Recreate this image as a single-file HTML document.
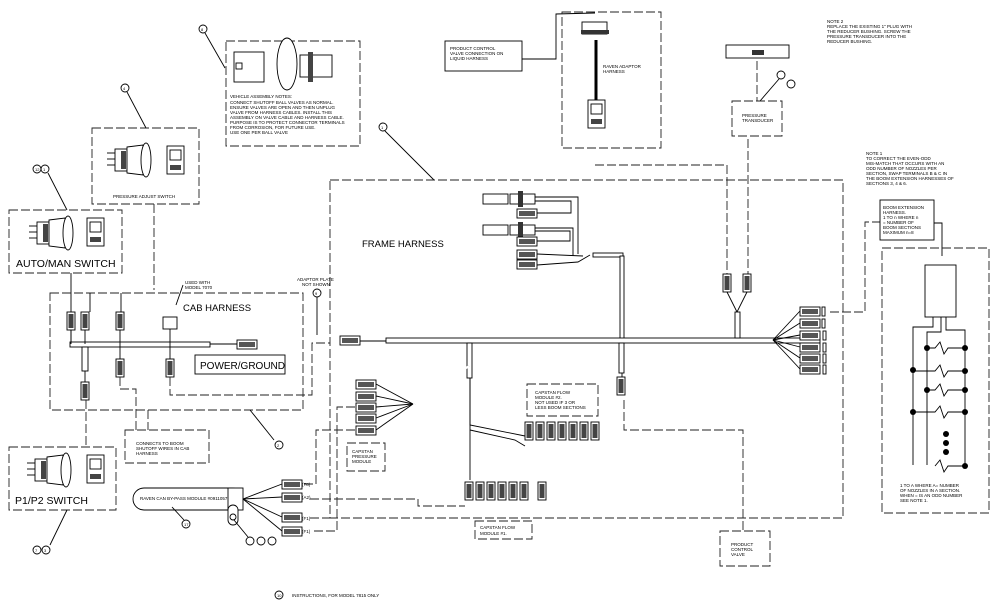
<!DOCTYPE html>
<html><head><style>
html,body{margin:0;padding:0;background:#fff;}
svg{display:block;}
text{font-family:"Liberation Sans",sans-serif;fill:#000;}
.d{fill:none;stroke:#222;stroke-width:0.9;stroke-dasharray:9 3;}
.s{fill:none;stroke:#000;stroke-width:0.9;}
.t{font-size:4.5px;}
.h{fill:#fff;stroke:#000;stroke-width:0.9;}
</style></head><body>
<svg width="1000" height="608" viewBox="0 0 1000 608" xmlns="http://www.w3.org/2000/svg">
<defs>
<g id="cn"><rect x="0" y="0" width="20" height="9" class="h"/><rect x="2" y="2" width="16" height="5" fill="#555"/></g>
<g id="vc"><rect x="0" y="0" width="8" height="18" class="h"/><rect x="1.5" y="2" width="5" height="14" fill="#444"/></g>
<g id="sw"><rect x="0" y="4" width="12" height="22" class="h"/><path d="M12 2 L28 0 L28 30 L12 28 Z" class="h"/><ellipse cx="31" cy="15" rx="5" ry="17" class="h"/><line x1="-8" y1="8" x2="0" y2="8" class="s"/><line x1="-8" y1="14" x2="0" y2="14" class="s"/><line x1="-8" y1="20" x2="0" y2="20" class="s"/><rect x="6" y="6" width="5" height="18" fill="#444"/></g>
<g id="pl"><rect x="0" y="0" width="17" height="28" class="h"/><rect x="3" y="4" width="11" height="10" class="h"/><rect x="3" y="19" width="11" height="5" fill="#444"/></g>
</defs>

<!-- valve note box -->
<circle cx="203" cy="29" r="4" class="s"/><text x="201" y="31" font-size="4">8</text>
<line x1="205" y1="33" x2="225" y2="68" class="s"/>
<rect x="226" y="41" width="134" height="105" class="d"/>
<rect x="234" y="52" width="30" height="30" class="h"/><rect x="236" y="63" width="6" height="6" class="h"/>
<ellipse cx="287" cy="64" rx="10" ry="26" class="h"/>
<rect x="300" y="55" width="32" height="22" class="h"/><rect x="308" y="52" width="5" height="30" fill="#444"/>
<text class="t" x="230" y="98">VEHICLE ASSEMBLY NOTES:</text>
<text class="t" x="230" y="104">CONNECT SHUTOFF BALL VALVES AS NORMAL.</text>
<text class="t" x="230" y="109">ENSURE VALVES ARE OPEN AND THEN UNPLUG</text>
<text class="t" x="230" y="114">VALVE FROM HARNESS CABLES.  INSTALL THIS</text>
<text class="t" x="230" y="119">ASSEMBLY ON VALVE CABLE AND HARNESS CABLE.</text>
<text class="t" x="230" y="124">PURPOSE IS TO PROTECT CONNECTOR TERMINALS</text>
<text class="t" x="230" y="129">FROM CORROSION, FOR FUTURE USE.</text>
<text class="t" x="230" y="134">USE ONE PER BALL VALVE</text>

<!-- pressure adjust -->
<circle cx="125" cy="88" r="4" class="s"/><text x="123" y="90" font-size="4">4</text>
<line x1="127" y1="92" x2="146" y2="128" class="s"/>
<rect x="92" y="128" width="107" height="76" class="d"/>
<use href="#sw" x="115" y="145"/><use href="#pl" x="167" y="146"/>
<text class="t" x="113" y="198">PRESSURE ADJUST SWITCH</text>
<polyline points="154,204 154,290" class="d"/>

<!-- auto/man -->
<circle cx="37" cy="169" r="4" class="s"/><circle cx="45" cy="169" r="4" class="s"/>
<text x="35" y="171" font-size="4">12</text><text x="43" y="171" font-size="4">1</text>
<line x1="48" y1="173" x2="67" y2="210" class="s"/>
<rect x="9" y="210" width="113" height="63" class="d"/>
<use href="#sw" x="37" y="218"/><use href="#pl" x="87" y="218"/>
<text x="16" y="267" font-size="10.5">AUTO/MAN  SWITCH</text>
<line x1="71" y1="273" x2="71" y2="346" class="s"/>

<!-- cab harness -->
<rect x="50" y="293" width="253" height="117" class="d"/>
<text x="183" y="311" font-size="9.5">CAB  HARNESS</text>
<text class="t" x="185" y="284">USED WITH</text><text class="t" x="185" y="289">MODEL 7070</text>
<line x1="183" y1="285" x2="176" y2="305" class="s"/>
<line x1="90" y1="293" x2="90" y2="312" class="s"/><line x1="121" y1="293" x2="121" y2="312" class="s"/>
<use href="#vc" x="67" y="312"/><use href="#vc" x="81" y="312"/><use href="#vc" x="116" y="312"/>
<rect x="163" y="317" width="14" height="12" class="h"/>
<rect x="70" y="342" width="140" height="5" class="h"/>
<line x1="210" y1="344" x2="237" y2="344" class="s"/><use href="#cn" x="237" y="340"/>
<line x1="71" y1="330" x2="71" y2="344" class="s"/><line x1="85" y1="330" x2="85" y2="344" class="s"/>
<rect x="82" y="347" width="6" height="24" class="h"/>
<use href="#vc" x="81" y="382"/><line x1="85" y1="371" x2="85" y2="382" class="s"/>
<use href="#vc" x="116" y="359"/><line x1="120" y1="330" x2="120" y2="359" class="s"/>
<use href="#vc" x="166" y="359"/><line x1="170" y1="329" x2="170" y2="359" class="s"/>
<rect x="195" y="355" width="90" height="19" class="h"/>
<text x="200" y="369" font-size="10">POWER/GROUND</text>
<polyline points="170,377 170,395 312,395 312,343 330,343" class="d"/>
<text class="t" x="297" y="281">ADAPTOR PLATE</text><text class="t" x="302" y="286">NOT SHOWN</text>
<circle cx="317" cy="293" r="4" class="s"/><text x="315" y="295" font-size="4">9</text>
<line x1="317" y1="297" x2="317" y2="335" class="s"/>
<polyline points="120,377 120,389 136,389 136,430" class="d"/>
<line x1="148" y1="410" x2="148" y2="430" class="d"/>
<rect x="125" y="430" width="84" height="33" class="d"/>
<text class="t" x="136" y="445">CONNECTS TO BOOM</text><text class="t" x="136" y="450">SHUTOFF WIRES IN CAB</text><text class="t" x="136" y="455">HARNESS</text>
<line x1="250" y1="410" x2="274" y2="440" class="s"/>
<circle cx="279" cy="445" r="4" class="s"/><text x="277" y="447" font-size="4">2</text>
<line x1="86" y1="400" x2="86" y2="447" class="d"/>

<!-- p1/p2 -->
<rect x="9" y="447" width="107" height="63" class="d"/>
<use href="#sw" x="35" y="455"/><use href="#pl" x="87" y="455"/>
<text x="15" y="504" font-size="10.5">P1/P2  SWITCH</text>
<line x1="67" y1="510" x2="50" y2="545" class="s"/>
<circle cx="37" cy="550" r="4" class="s"/><circle cx="46" cy="550" r="4" class="s"/>
<text x="35" y="552" font-size="4">7</text><text x="44" y="552" font-size="4">3</text>

<!-- frame harness -->
<circle cx="383" cy="127" r="4" class="s"/><text x="381" y="129" font-size="4">1</text>
<line x1="385" y1="131" x2="434" y2="180" class="s"/>
<rect x="330" y="180" width="513" height="338" class="d"/>
<text x="362" y="247" font-size="9.5">FRAME  HARNESS</text>
<rect x="483" y="194" width="25" height="10" class="h"/><rect x="510" y="194" width="25" height="10" class="h"/><rect x="518" y="191" width="5" height="16" fill="#333"/>
<rect x="483" y="225" width="25" height="10" class="h"/><rect x="510" y="225" width="25" height="10" class="h"/><rect x="518" y="222" width="5" height="16" fill="#333"/>
<polyline points="535,197 578,197 578,254" class="s"/>
<polyline points="535,201 571,201 571,213 537,213" class="s"/>
<polyline points="535,228 573,228 573,256" class="s"/>
<polyline points="535,231 570,231 570,241 537,241" class="s"/>
<use href="#cn" x="517" y="209"/><use href="#cn" x="517" y="237"/><use href="#cn" x="517" y="250"/><use href="#cn" x="517" y="260"/>
<polyline points="537,254 583,256" class="s"/><polyline points="537,265 578,262 590,255" class="s"/>
<rect x="593" y="253" width="30" height="4" class="h"/>
<rect x="620" y="256" width="4" height="84" class="h"/>
<use href="#cn" x="340" y="336"/><line x1="360" y1="341" x2="386" y2="341" class="s"/>
<rect x="386" y="338" width="434" height="5" class="h"/>
<rect x="619" y="343" width="5" height="30" class="h"/><line x1="622" y1="373" x2="622" y2="378" class="s"/>
<use href="#vc" x="617" y="377"/>
<polyline points="624,400 624,430 743,430 743,531" class="d"/>
<polyline points="595,165 727,165 727,280" class="d"/>
<line x1="748" y1="139" x2="748" y2="280" class="d"/>
<use href="#vc" x="723" y="274"/><use href="#vc" x="743" y="274"/>
<polyline points="727,292 737,312 747,292" class="s"/><rect x="735" y="312" width="5" height="26" class="h"/>
<g>
<line x1="773" y1="340" x2="800" y2="311" class="s"/><line x1="773" y1="340" x2="800" y2="323" class="s"/><line x1="773" y1="340" x2="800" y2="335" class="s"/><line x1="773" y1="340" x2="800" y2="347" class="s"/><line x1="773" y1="340" x2="800" y2="358" class="s"/><line x1="773" y1="340" x2="800" y2="369" class="s"/>
<use href="#cn" x="800" y="307"/><use href="#cn" x="800" y="319"/><use href="#cn" x="800" y="331"/><use href="#cn" x="800" y="343"/><use href="#cn" x="800" y="354"/><use href="#cn" x="800" y="365"/>
<rect x="822" y="307" width="3" height="9" class="h"/><rect x="822" y="319" width="3" height="9" class="h"/><rect x="823" y="331" width="3" height="9" class="h"/><rect x="823" y="343" width="3" height="9" class="h"/><rect x="823" y="354" width="3" height="9" class="h"/><rect x="823" y="365" width="3" height="9" class="h"/>
</g>
<polyline points="830,312 865,312 865,222 880,222" class="d"/>
<rect x="467" y="343" width="5" height="35" class="h"/>
<line x1="469" y1="366" x2="415" y2="404" class="s" stroke-width="4"/>
<line x1="469" y1="366" x2="415" y2="404" stroke="#fff" stroke-width="2"/>
<use href="#cn" x="356" y="380"/><use href="#cn" x="356" y="392"/><use href="#cn" x="356" y="403"/><use href="#cn" x="356" y="414"/><use href="#cn" x="356" y="426"/>
<line x1="376" y1="384" x2="413" y2="404" class="s"/><line x1="376" y1="396" x2="413" y2="404" class="s"/><line x1="376" y1="407" x2="413" y2="404" class="s"/><line x1="376" y1="418" x2="413" y2="404" class="s"/><line x1="376" y1="430" x2="413" y2="404" class="s"/>
<polyline points="355,407 337,407 337,531 313,531" class="d"/>
<polyline points="355,430 316,430 316,484 302,484" class="d"/>
<polyline points="470,378 470,425 525,436" class="s"/>
<line x1="470" y1="378" x2="470" y2="480" class="s"/>
<polyline points="470,430 515,440 525,446" class="s"/>
<rect x="347" y="443" width="38" height="28" class="d"/>
<text class="t" x="352" y="453">CAPSTAN</text><text class="t" x="352" y="458">PRESSURE</text><text class="t" x="352" y="463">MODULE</text>
<rect x="527" y="384" width="71" height="32" class="d"/>
<text class="t" x="535" y="394">CAPSTAN FLOW</text><text class="t" x="535" y="399">MODULE #2.</text><text class="t" x="535" y="404">NOT USED IF 3 OR</text><text class="t" x="535" y="409">LESS BOOM SECTIONS</text>
<g>
<use href="#vc" x="525" y="422"/><use href="#vc" x="536" y="422"/><use href="#vc" x="547" y="422"/><use href="#vc" x="558" y="422"/><use href="#vc" x="569" y="422"/><use href="#vc" x="580" y="422"/><use href="#vc" x="591" y="422"/>
<use href="#vc" x="465" y="482"/><use href="#vc" x="476" y="482"/><use href="#vc" x="487" y="482"/><use href="#vc" x="498" y="482"/><use href="#vc" x="509" y="482"/><use href="#vc" x="520" y="482"/><use href="#vc" x="538" y="482"/>
</g>
<rect x="475" y="521" width="57" height="18" class="d"/>
<text class="t" x="480" y="529">CAPSTAN FLOW</text><text class="t" x="480" y="535">MODULE #1.</text>

<!-- bypass module -->
<rect x="133" y="488" width="110" height="22" rx="11" class="h"/>
<text class="t" x="140" y="500">RAVEN CAN BY-PASS MODULE #0911057</text>
<rect x="228" y="488" width="15" height="22" class="h"/><rect x="228" y="505" width="10" height="20" rx="5" class="h"/>
<circle cx="233" cy="517" r="3" class="s"/>
<line x1="243" y1="499" x2="282" y2="484" class="s"/><line x1="243" y1="499" x2="282" y2="497" class="s"/><line x1="243" y1="499" x2="282" y2="517" class="s"/><line x1="243" y1="499" x2="282" y2="531" class="s"/>
<use href="#cn" x="282" y="480"/><use href="#cn" x="282" y="493"/><use href="#cn" x="282" y="513"/><use href="#cn" x="282" y="527"/>
<text class="t" x="302" y="486">(T8)</text><text class="t" x="302" y="499">(A2)</text><text class="t" x="302" y="520">(F1)</text><text class="t" x="302" y="533">(F1)</text>
<polyline points="310,499 418,499 418,506 465,506" class="d"/>
<line x1="310" y1="518" x2="337" y2="518" class="d"/>
<line x1="172" y1="507" x2="184" y2="520" class="s"/>
<circle cx="186" cy="524" r="4" class="s"/><text x="184" y="526" font-size="4">17</text>
<line x1="234" y1="520" x2="248" y2="537" class="s"/>
<circle cx="250" cy="541" r="4" class="s"/><circle cx="261" cy="541" r="4" class="s"/><circle cx="272" cy="541" r="4" class="s"/>

<!-- product control valve connection -->
<rect x="445" y="41" width="77" height="30" class="s"/>
<text class="t" x="450" y="50">PRODUCT CONTROL</text><text class="t" x="450" y="55">VALVE CONNECTION ON</text><text class="t" x="450" y="60">LIQUID HARNESS</text>
<polyline points="522,59 556,59 556,14 595,13" class="s"/>
<rect x="562" y="12" width="99" height="136" class="d"/>
<rect x="582" y="22" width="25" height="12" class="h"/><rect x="581" y="30" width="28" height="4" fill="#333"/>
<line x1="596" y1="40" x2="596" y2="100" stroke="#000" stroke-width="3"/>
<use href="#pl" x="588" y="100"/>
<text class="t" x="603" y="68">RAVEN ADAPTOR</text><text class="t" x="603" y="73">HARNESS</text>

<!-- pressure transducer -->
<rect x="726" y="45" width="63" height="13" class="h"/><rect x="752" y="50" width="12" height="5" fill="#333"/>
<line x1="757" y1="61" x2="757" y2="101" class="d"/>
<circle cx="781" cy="75" r="4" class="s"/><circle cx="791" cy="84" r="4" class="s"/>
<line x1="779" y1="79" x2="760" y2="101" class="s"/>
<rect x="732" y="101" width="50" height="35" class="d"/>
<text class="t" x="742" y="117">PRESSURE</text><text class="t" x="742" y="122">TRANSDUCER</text>

<!-- notes -->
<text class="t" x="827" y="23">NOTE 2</text>
<text class="t" x="827" y="28">REPLACE THE EXISTING 1" PLUG WITH</text>
<text class="t" x="827" y="33">THE REDUCER BUSHING.  SCREW THE</text>
<text class="t" x="827" y="38">PRESSURE TRANSDUCER INTO THE</text>
<text class="t" x="827" y="43">REDUCER BUSHING.</text>
<text class="t" x="866" y="155">NOTE 1</text>
<text class="t" x="866" y="160">TO CORRECT THE EVEN-ODD</text>
<text class="t" x="866" y="165">MIS-MATCH THAT OCCURS WITH AN</text>
<text class="t" x="866" y="170">ODD NUMBER OF NOZZLES PER</text>
<text class="t" x="866" y="175">SECTION,  SWAP TERMINALS B &amp; C IN</text>
<text class="t" x="866" y="180">THE BOOM EXTENSION HARNESSES OF</text>
<text class="t" x="866" y="185">SECTIONS 3, 4 &amp; 6.</text>

<!-- boom extension -->
<rect x="880" y="200" width="54" height="40" class="s"/>
<text class="t" x="883" y="209">BOOM EXTENSION</text><text class="t" x="883" y="214">HARNESS.</text><text class="t" x="883" y="219">1 TO n WHERE n</text><text class="t" x="883" y="224">= NUMBER OF</text><text class="t" x="883" y="229">BOOM SECTIONS</text><text class="t" x="883" y="234">MAXIMUM n=8</text>
<polyline points="934,223 942,223 942,256" class="s"/>
<rect x="882" y="248" width="107" height="265" class="d"/>
<rect x="925" y="265" width="31" height="52" class="h"/>
<polyline points="933,317 933,327 913,327 913,465" class="s"/>
<polyline points="941,317 941,332 927,332 927,465" class="s"/>
<polyline points="946,317 946,330 965,330 965,467" class="s"/>
<g fill="#000">
<circle cx="927" cy="348" r="3"/><circle cx="965" cy="348" r="3"/>
<circle cx="913" cy="370" r="3"/><circle cx="965" cy="371" r="3"/>
<circle cx="927" cy="390" r="3"/><circle cx="965" cy="390" r="3"/>
<circle cx="913" cy="412" r="3"/><circle cx="965" cy="412" r="3"/>
<circle cx="946" cy="434" r="3"/><circle cx="946" cy="443" r="3"/><circle cx="946" cy="452" r="3"/>
<circle cx="965" cy="466" r="3"/>
</g>
<g class="s">
<polyline points="927,348 935,348 940,342 944,354 948,348 965,348"/>
<polyline points="913,371 935,371 940,365 944,377 948,371 965,371"/>
<polyline points="927,390 935,390 940,384 944,396 948,390 965,390"/>
<polyline points="913,412 935,412 940,406 944,418 948,412 965,412"/>
<polyline points="935,466 940,460 944,472 948,466 965,466"/>
</g>
<text class="t" x="900" y="487">1 TO A WHERE A= NUMBER</text><text class="t" x="900" y="492">OF NOZZLES IN A SECTION.</text><text class="t" x="900" y="497">WHEN = IS AN ODD NUMBER</text><text class="t" x="900" y="502">SEE NOTE 1.</text>

<!-- product control valve -->
<rect x="720" y="531" width="50" height="35" class="d"/>
<text class="t" x="731" y="546">PRODUCT</text><text class="t" x="731" y="551">CONTROL</text><text class="t" x="731" y="556">VALVE</text>

<!-- footnote -->
<circle cx="279" cy="595" r="4" class="s"/><text x="277" y="597" font-size="4">10</text>
<text class="t" x="292" y="597">INSTRUCTIONS, FOR MODEL 7815 ONLY</text>
</svg>
</body></html>
